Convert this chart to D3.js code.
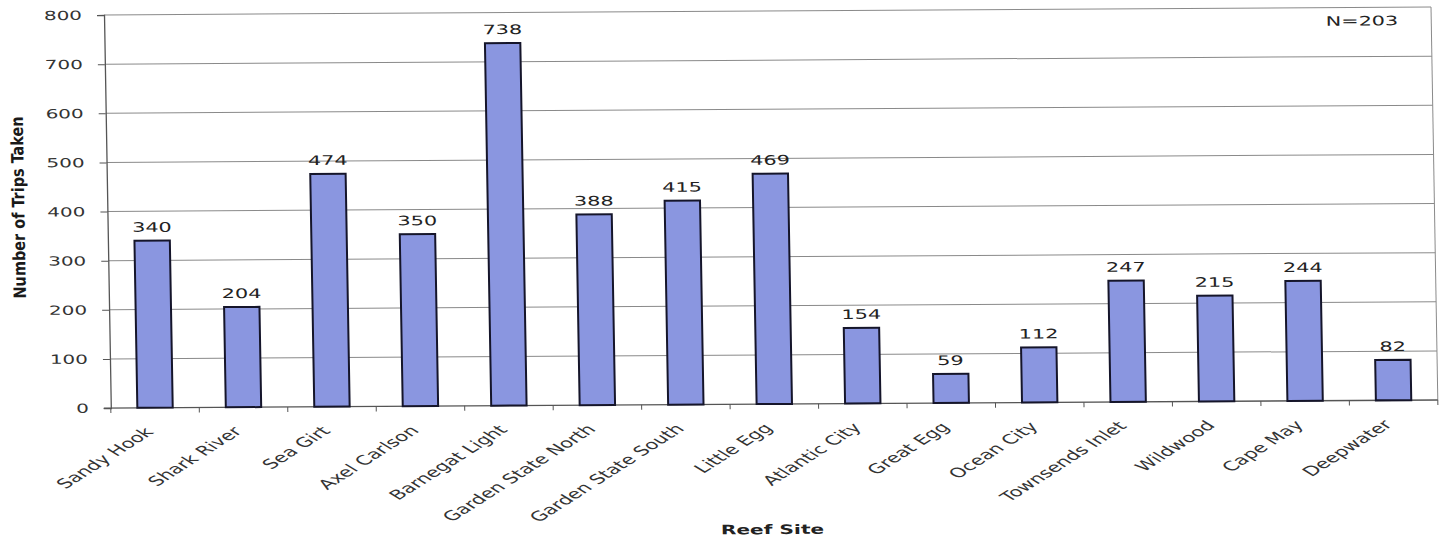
<!DOCTYPE html>
<html>
<head>
<meta charset="utf-8">
<script src="https://cdn.jsdelivr.net/npm/d3@7"></script>
<style>
  html, body { margin: 0; padding: 0; background: #fff; }
  svg { display: block; }
</style>
</head>
<body>
<svg id="chart" width="1440" height="544"></svg>
<script>
const categories = ["Sandy Hook", "Shark River", "Sea Girt", "Axel Carlson", "Barnegat Light",
  "Garden State North", "Garden State South", "Little Egg", "Atlantic City", "Great Egg",
  "Ocean City", "Townsends Inlet", "Wildwood", "Cape May", "Deepwater"];
const trips = [340, 204, 474, 350, 738, 388, 415, 469, 154, 59, 112, 247, 215, 244, 82];
const yTicks = [0, 100, 200, 300, 400, 500, 600, 700, 800];
const yTitle = "Number of Trips Taken";
const xTitle = "Reef Site";
const note = "N=203";

const W = 1327, H = 393;
const SX = 1.6; // horizontal stretch of the scanned picture

const svg = d3.select("#chart");
// slight skew of the scanned page
const g = svg.append("g")
  .attr("transform", `matrix(1,${-8 / 1327},${6.8 / 393},1,104,15)`);

const x = d3.scaleBand().domain(categories).range([0, W]).paddingInner(0.6).paddingOuter(0.3);
const y = d3.scaleLinear().domain([0, 800]).range([H, 0]);

// gridlines
g.append("g").selectAll("line").data(yTicks.filter(d => d > 0)).join("line")
  .attr("x1", 0).attr("x2", W)
  .attr("y1", d => y(d)).attr("y2", d => y(d))
  .attr("stroke", "#8a8a8a").attr("stroke-width", 1);

// right border
g.append("line").attr("x1", W).attr("x2", W).attr("y1", 0).attr("y2", H)
  .attr("stroke", "#8a8a8a").attr("stroke-width", 1);

// y axis
const yAxis = d3.axisLeft(y).tickValues(yTicks).tickSize(7).tickPadding(15).tickFormat(d3.format("d"));
const ya = g.append("g").call(yAxis);
ya.select(".domain").attr("stroke", "#555").attr("stroke-width", 1.3);
ya.selectAll(".tick line").attr("stroke", "#555");
ya.selectAll(".tick text")
  .attr("font-family", "DejaVu Sans, Verdana, sans-serif")
  .attr("font-size", 12.5).attr("fill", "#333")
  .attr("x", null).attr("dy", null)
  .attr("text-anchor", "end")
  .attr("dominant-baseline", "central")
  .attr("transform", `translate(-22,0) scale(${SX},1)`);

// x axis with ticks at category boundaries
const xa = g.append("g").attr("transform", `translate(0,${H})`);
xa.append("line").attr("x1", -7).attr("x2", W).attr("y1", 0).attr("y2", 0)
  .attr("stroke", "#555").attr("stroke-width", 1.3);
const bounds = categories.map((c, i) => i === 0 ? 0 : (x(categories[i - 1]) + x.bandwidth() + x(c)) / 2);
bounds.push(W);
xa.selectAll("line.tk").data(bounds).join("line").attr("class", "tk")
  .attr("x1", d => d).attr("x2", d => d).attr("y1", 0).attr("y2", 5)
  .attr("stroke", "#555");

xa.selectAll("text.cat").data(categories).join("text").attr("class", "cat")
  .attr("font-family", "DejaVu Sans, Verdana, sans-serif")
  .attr("font-size", 13.3).attr("fill", "#333")
  .attr("text-anchor", "end")
  .attr("transform", d => `translate(${x(d) + x.bandwidth() / 2 - 1},25) scale(${SX},1) rotate(-45)`)
  .text(d => d);

// bars
g.append("g").selectAll("rect").data(trips).join("rect")
  .attr("x", (d, i) => x(categories[i]))
  .attr("y", d => y(d))
  .attr("width", x.bandwidth())
  .attr("height", d => H - y(d))
  .attr("fill", "#8a96e0")
  .attr("stroke", "#15152a").attr("stroke-width", 2);

// value labels
g.append("g").selectAll("text").data(trips).join("text")
  .attr("font-family", "DejaVu Sans, Verdana, sans-serif")
  .attr("font-size", 13).attr("fill", "#222")
  .attr("text-anchor", "middle")
  .attr("transform", (d, i) => `translate(${x(categories[i]) + x.bandwidth() / 2},${y(d) - 9}) scale(${SX},1)`)
  .text(d => d);

// N note
g.append("text")
  .attr("font-family", "DejaVu Sans, Verdana, sans-serif")
  .attr("font-size", 13).attr("fill", "#222")
  .attr("text-anchor", "end")
  .attr("transform", `translate(${W - 33},18) scale(${SX},1)`)
  .text(note);

// axis titles
g.append("text")
  .attr("font-family", "DejaVu Sans, Verdana, sans-serif")
  .attr("font-size", 13).attr("font-weight", "bold").attr("fill", "#222")
  .attr("text-anchor", "middle")
  .attr("transform", `translate(${W / 2 - 4},${H + 130}) scale(1.55,1)`)
  .text(xTitle);

g.append("text")
  .attr("font-family", "Liberation Sans Narrow, DejaVu Sans Condensed, Arial Narrow, sans-serif")
  .attr("font-size", 17).attr("font-weight", "bold").attr("fill", "#1a1a1a")
  .attr("text-anchor", "middle")
  .attr("dominant-baseline", "central")
  .attr("textLength", 182).attr("lengthAdjust", "spacingAndGlyphs")
  .attr("transform", `translate(-89,192) rotate(-90)`)
  .text(yTitle);
</script>
</body>
</html>
